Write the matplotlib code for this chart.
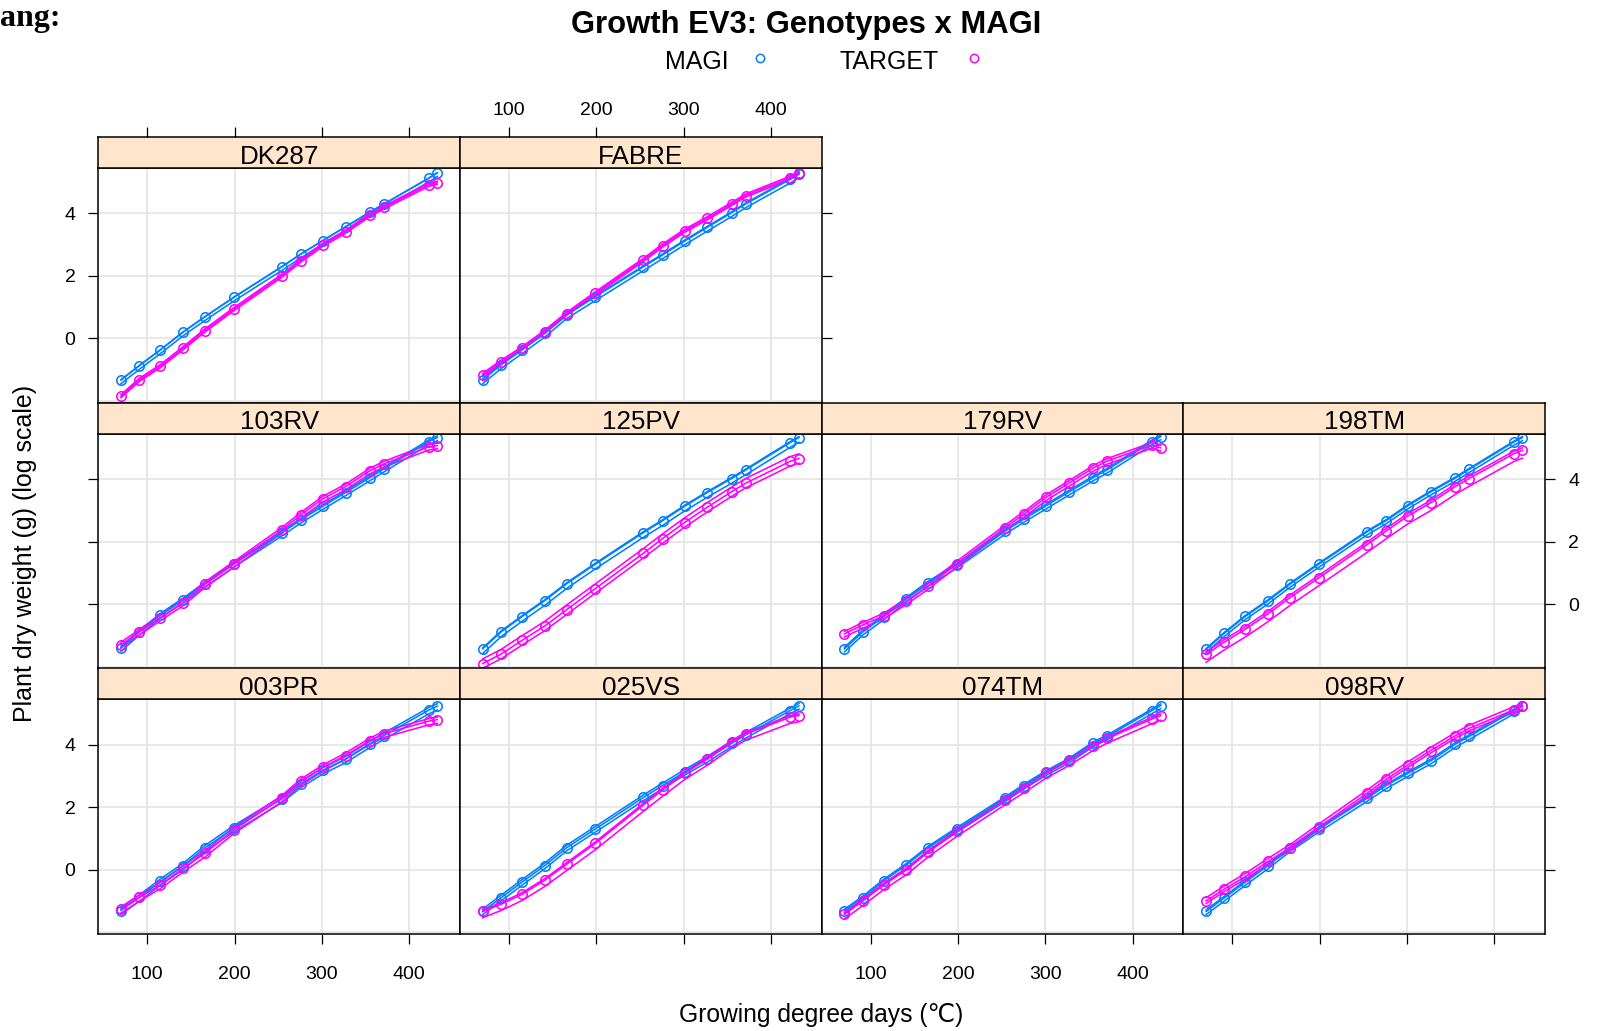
import matplotlib
matplotlib.use('Agg')
import matplotlib.pyplot as plt
from matplotlib.lines import Line2D

plt.rcParams['font.family'] = ['Liberation Sans', 'DejaVu Sans']

# ---------------- data ----------------
days = [70, 91, 115, 141, 166, 199, 254, 276, 301, 327, 355, 371, 422, 432]
genotypes = ['DK287', 'FABRE', '103RV', '125PV', '179RV', '198TM',
             '003PR', '025VS', '074TM', '098RV']
groups = ['MAGI', 'TARGET']
x_ticks = [100, 200, 300, 400]
y_ticks = [0, 2, 4]

dk287_magi   = [-1.33, -0.87, -0.37, 0.20, 0.69, 1.31, 2.29, 2.70, 3.13, 3.57, 4.04, 4.30, 5.12, 5.30]
dk287_target = [-1.85, -1.33, -0.89, -0.32, 0.25, 0.93, 2.00, 2.49, 2.99, 3.41, 3.95, 4.19, 4.91, 4.98]
fabre_magi   = [-1.33, -0.85, -0.37, 0.16, 0.75, 1.33, 2.29, 2.67, 3.11, 3.55, 4.02, 4.30, 5.09, 5.26]
fabre_target = [-1.17, -0.75, -0.32, 0.21, 0.78, 1.44, 2.51, 2.97, 3.44, 3.84, 4.30, 4.57, 5.14, 5.30]
rv103_magi   = [-1.41, -0.89, -0.35, 0.14, 0.65, 1.28, 2.28, 2.70, 3.13, 3.57, 4.05, 4.33, 5.20, 5.33]
rv103_target = [-1.30, -0.89, -0.43, 0.05, 0.63, 1.28, 2.37, 2.86, 3.37, 3.76, 4.27, 4.49, 5.03, 5.07]
pv125_magi   = [-1.43, -0.89, -0.40, 0.11, 0.65, 1.28, 2.29, 2.67, 3.13, 3.57, 4.02, 4.29, 5.17, 5.33]
pv125_target = [-1.90, -1.60, -1.16, -0.70, -0.18, 0.50, 1.63, 2.10, 2.61, 3.10, 3.60, 3.87, 4.57, 4.66]
rv179_magi   = [-1.43, -0.89, -0.40, 0.17, 0.68, 1.26, 2.34, 2.73, 3.15, 3.59, 4.05, 4.30, 5.20, 5.36]
rv179_target = [-0.95, -0.67, -0.37, 0.09, 0.58, 1.30, 2.45, 2.89, 3.42, 3.87, 4.36, 4.58, 5.09, 5.00]
tm198_magi   = [-1.45, -0.93, -0.39, 0.11, 0.64, 1.28, 2.31, 2.67, 3.15, 3.59, 4.03, 4.31, 5.18, 5.33]
tm198_target = [-1.61, -1.21, -0.80, -0.31, 0.21, 0.84, 1.90, 2.34, 2.82, 3.24, 3.76, 4.02, 4.81, 4.92]
pr003_magi   = [-1.30, -0.88, -0.37, 0.13, 0.70, 1.34, 2.27, 2.76, 3.19, 3.55, 4.04, 4.30, 5.11, 5.24]
pr003_target = [-1.26, -0.88, -0.48, 0.05, 0.53, 1.28, 2.30, 2.83, 3.28, 3.66, 4.14, 4.36, 4.76, 4.81]
vs025_magi   = [-1.33, -0.89, -0.39, 0.14, 0.71, 1.31, 2.32, 2.70, 3.13, 3.55, 4.05, 4.32, 5.10, 5.25]
vs025_target = [-1.33, -1.10, -0.78, -0.33, 0.18, 0.85, 2.08, 2.56, 3.09, 3.55, 4.09, 4.35, 4.89, 4.94]
tm074_magi   = [-1.31, -0.89, -0.35, 0.16, 0.71, 1.31, 2.29, 2.70, 3.13, 3.52, 4.05, 4.27, 5.10, 5.26]
tm074_target = [-1.42, -0.99, -0.48, 0.00, 0.57, 1.23, 2.24, 2.63, 3.09, 3.49, 3.98, 4.21, 4.83, 4.94]
rv098_magi   = [-1.33, -0.89, -0.39, 0.14, 0.69, 1.31, 2.29, 2.70, 3.09, 3.49, 4.02, 4.27, 5.09, 5.23]
rv098_target = [-0.99, -0.61, -0.21, 0.27, 0.71, 1.37, 2.45, 2.90, 3.36, 3.82, 4.29, 4.53, 5.12, 5.23]

# spread of the two companion lines below / above each mean line (per genotype)
magi_lo   = [0.12, 0.12, 0.10, 0.15, 0.10, 0.10, 0.12, 0.10, 0.10, 0.10]
magi_hi   = [0.00, 0.03, 0.05, 0.03, 0.05, 0.03, 0.08, 0.08, 0.05, 0.05]
target_lo = [0.05, 0.05, 0.10, 0.15, 0.10, 0.25, 0.12, 0.20, 0.15, 0.08]
target_hi = [0.05, 0.05, 0.08, 0.15, 0.08, 0.08, 0.08, 0.05, 0.05, 0.10]

magi_means = [dk287_magi, fabre_magi, rv103_magi, pv125_magi, rv179_magi,
              tm198_magi, pr003_magi, vs025_magi, tm074_magi, rv098_magi]
target_means = [dk287_target, fabre_target, rv103_target, pv125_target, rv179_target,
                tm198_target, pr003_target, vs025_target, tm074_target, rv098_target]

# ---------------- layout ----------------
W, H = 1598, 1031
fig = plt.figure(figsize=(W / 100, H / 100), dpi=100)

col_left = [98.3, 460.0, 821.7, 1183.4]
col_w = 361.7
row_top = [136.7, 402.5, 668.3]
strip_h = 31.0
panel_h = 235.0

positions = [(0, 0), (0, 1), (1, 0), (1, 1), (1, 2), (1, 3),
             (2, 0), (2, 1), (2, 2), (2, 3)]

BLUE = '#0080ff'
MAG = '#ff00ff'
STRIP = '#ffe5cc'
GRID = '#e6e6e6'
XLIM = (44, 458)
YLIM = (-2.06, 5.46)
TICKLEN = 7.5
TFS = 14


def frect(x0, top, w, h):
    return [x0 / W, 1 - (top + h) / H, w / W, h / H]


for i, g in enumerate(genotypes):
    r, c = positions[i]
    top = row_top[r]
    ax = fig.add_axes(frect(col_left[c], top + strip_h, col_w, panel_h))
    sax = fig.add_axes(frect(col_left[c], top, col_w, strip_h))

    ax.set_xlim(*XLIM)
    ax.set_ylim(*YLIM)
    for gx in x_ticks:
        ax.axvline(gx, color=GRID, lw=1.3, zorder=0)
    for gy in [-2] + y_ticks:
        ax.axhline(gy, color=GRID, lw=1.3, zorder=0)

    for means, lo, hi, col in [(magi_means[i], magi_lo[i], magi_hi[i], BLUE),
                               (target_means[i], target_lo[i], target_hi[i], MAG)]:
        ax.plot(days, [v - lo for v in means], color=col, lw=1.15, zorder=2)
        ax.plot(days, [v + hi for v in means], color=col, lw=1.15, zorder=2)
        ax.plot(days, means, color=col, lw=1.15, marker='o', ms=6.8,
                mfc='none', mec=col, mew=1.15, zorder=3)

    for sp in ax.spines.values():
        sp.set_linewidth(1.1)
    ax.set_xticks(x_ticks)
    ax.set_yticks(y_ticks)
    ax.set_yticklabels([str(v) for v in y_ticks])
    ax.set_xticklabels([str(v) for v in x_ticks])

    left_t = (c == 0)
    right_t = (c == 1 and r == 0) or (c == 3)
    bottom_t = (r == 2)
    ax.tick_params(axis='y', which='both', left=left_t, right=right_t,
                   labelleft=(c == 0 and r != 1), labelright=(c == 3 and r == 1),
                   length=TICKLEN, width=0.9, direction='out', labelsize=TFS, pad=9)
    ax.tick_params(axis='x', which='both', top=False, labeltop=False,
                   bottom=bottom_t, labelbottom=(bottom_t and c in (0, 2)),
                   length=TICKLEN, width=0.9, direction='out', labelsize=TFS, pad=15)

    # strip
    sax.set_facecolor(STRIP)
    sax.set_xlim(*XLIM)
    sax.set_ylim(0, 1)
    for sp in sax.spines.values():
        sp.set_linewidth(1.1)
    sax.set_xticks(x_ticks)
    sax.set_xticklabels([str(v) for v in x_ticks])
    sax.set_yticks([])
    sax.tick_params(axis='x', bottom=False, labelbottom=False,
                    top=(r == 0), labeltop=(r == 0 and c == 1),
                    length=TICKLEN, width=0.9, direction='out', labelsize=TFS, pad=5)
    sax.text(0.5, 0.36, g, transform=sax.transAxes, ha='center', va='center',
             fontsize=18.7, color='black')

# ---------------- texts ----------------
fig.text(806 / W, 1 - 24.5 / H, 'Growth EV3: Genotypes x MAGI', ha='center',
         va='center', fontsize=22.3, fontweight='bold')
fig.text(0 / W, 1 - 26 / H, 'ang:', ha='left', va='baseline', fontsize=23,
         fontweight='bold', family=['Liberation Serif', 'DejaVu Serif'])

leg_y = 1 - 62 / H
fig.text(697 / W, leg_y, groups[0], ha='center', va='center', fontsize=18)
fig.text(889 / W, leg_y, groups[1], ha='center', va='center', fontsize=18)
fig.add_artist(Line2D([760 / W], [1 - 58 / H], marker='o', ms=6, mfc='none',
                      mec=BLUE, mew=1.1, ls='none', transform=fig.transFigure))
fig.add_artist(Line2D([974 / W], [1 - 58 / H], marker='o', ms=6, mfc='none',
                      mec=MAG, mew=1.1, ls='none', transform=fig.transFigure))

fig.text(821 / W, 1 - 1015 / H, 'Growing degree days (\u2103)', ha='center',
         va='center', fontsize=17.7)
fig.text(25.5 / W, 1 - 553 / H, 'Plant dry weight (g) (log scale)', ha='center',
         va='center', rotation=90, fontsize=18)

fig.savefig('out.png', dpi=100)
